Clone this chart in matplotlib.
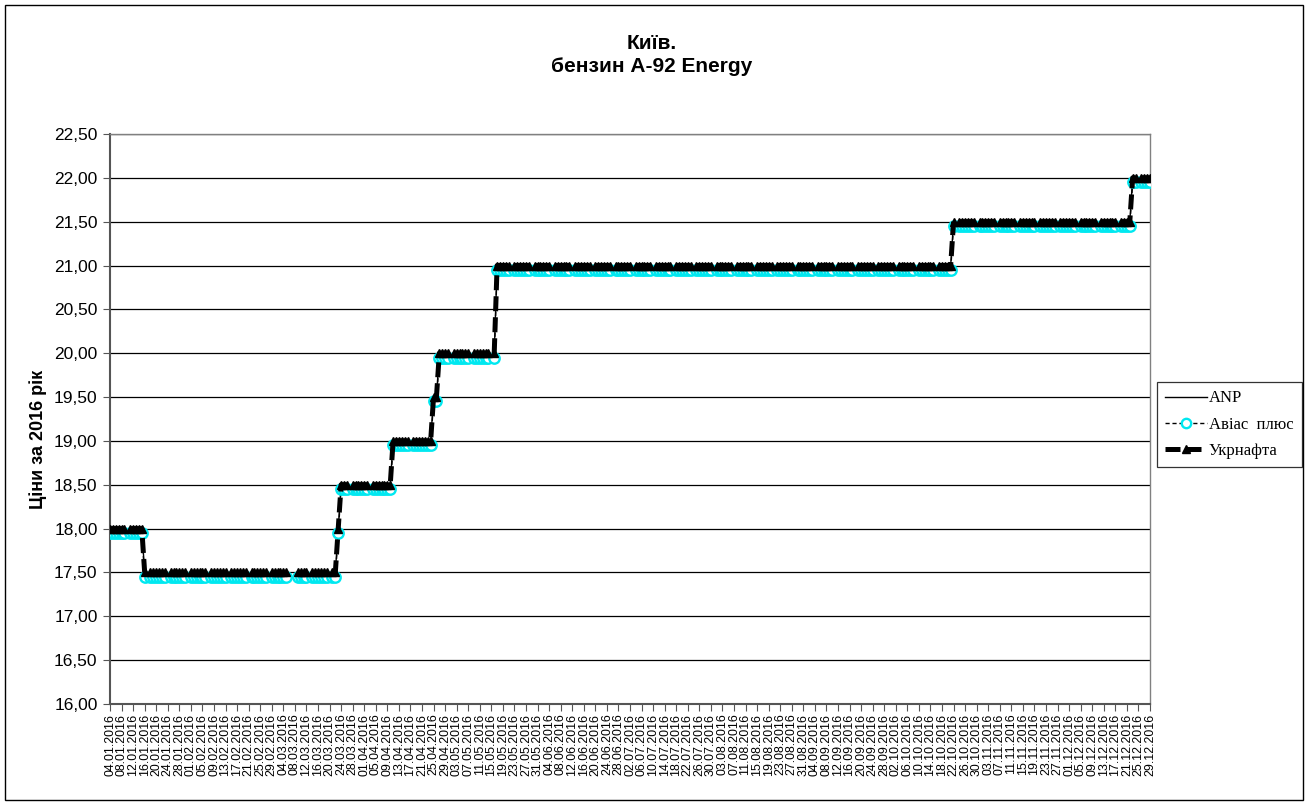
import numpy as np
import pandas as pd
import matplotlib
matplotlib.use('Agg')
import matplotlib.pyplot as plt
from matplotlib.ticker import FuncFormatter, MultipleLocator
from matplotlib.patches import Rectangle

plt.rcParams['font.family'] = ['Liberation Sans', 'DejaVu Sans']

# дні спостережень
START_DATE = "2016-01-04"
END_DATE = "2016-12-29"

# пропущені дні: неділі + свята; неділі, де дані є
EXTRA_MISSING = ["2016-03-07", "2016-03-08"]
KEEP_SUNDAYS = ["2016-04-10", "2016-04-24"]

# (дата зміни ціни, ціна) для кожної мережі
ANP_STEPS = [("2016-01-04", 18.00), ("2016-01-16", 17.50), ("2016-03-23", 18.00),
             ("2016-03-24", 18.50), ("2016-04-11", 19.00), ("2016-04-25", 19.50),
             ("2016-04-27", 20.00), ("2016-05-17", 21.00), ("2016-10-22", 21.50),
             ("2016-12-23", 22.00)]
AVIAS_STEPS = [("2016-01-04", 17.95), ("2016-01-16", 17.45), ("2016-03-23", 17.95),
               ("2016-03-24", 18.45), ("2016-04-11", 18.95), ("2016-04-25", 19.45),
               ("2016-04-27", 19.95), ("2016-05-17", 20.95), ("2016-10-22", 21.45),
               ("2016-12-23", 21.95)]
UKR_STEPS = [("2016-01-04", 18.00), ("2016-01-16", 17.50), ("2016-03-23", 18.00),
             ("2016-03-24", 18.50), ("2016-04-11", 19.00), ("2016-04-25", 19.50),
             ("2016-04-27", 20.00), ("2016-05-17", 21.00), ("2016-10-22", 21.50),
             ("2016-12-23", 22.00)]

SERIES_NAMES = ["ANP", "Авіас  плюс", "Укрнафта"]
TITLE = "Київ.\nбензин А-92 Energy"
Y_LABEL = "Ціни за 2016 рік"

dates = pd.date_range(START_DATE, END_DATE, freq="D")
missing = (dates.dayofweek == 6) | dates.isin(pd.to_datetime(EXTRA_MISSING))
missing &= ~dates.isin(pd.to_datetime(KEEP_SUNDAYS))


def expand(steps):
    s = pd.Series(np.nan, index=dates)
    for d, v in steps:
        s[pd.Timestamp(d)] = v
    s = s.ffill()
    s[missing] = np.nan
    return s.values


anp = expand(ANP_STEPS)
avias = expand(AVIAS_STEPS)
ukr = expand(UKR_STEPS)
x = np.arange(len(dates))

W, H = 1308, 805
fig = plt.figure(figsize=(W / 100, H / 100), dpi=100)
ax = fig.add_axes([110 / W, 1 - 704 / H, 1040 / W, 570 / H])

ax.plot(x, anp, color="black", lw=1.0, label=SERIES_NAMES[0], zorder=3)
ax.plot(x, avias, color="black", lw=1.0, ls=(0, (3, 2)), marker="o", ms=7.5,
        mfc="white", mec="#00e8f0", mew=1.7, label=SERIES_NAMES[1], zorder=4)
ax.plot(x, ukr, color="black", lw=3.6, ls=(0, (3, 1.2)), marker="^", ms=6,
        mfc="black", mec="black", label=SERIES_NAMES[2], zorder=5)

ax.set_xlim(0, len(dates) - 1)
ax.set_ylim(16, 22.5)
ax.yaxis.set_major_locator(MultipleLocator(0.5))
ax.yaxis.set_major_formatter(FuncFormatter(lambda v, p: f"{v:.2f}".replace(".", ",")))
ax.grid(axis="y", color="black", lw=0.9)
ax.set_axisbelow(True)

tick_idx = x[::4]
ax.set_xticks(tick_idx)
ax.set_xticklabels([dates[i].strftime("%d.%m.%Y") for i in tick_idx],
                   rotation=90, fontsize=8.9)
ax.tick_params(axis="x", direction="out", length=5, width=0.8, pad=2, color="#555555")
ax.tick_params(axis="y", direction="out", length=5, width=0.8, labelsize=12.5, pad=4,
               color="#555555")

for side in ["left", "bottom"]:
    ax.spines[side].set_color("#555555")
    ax.spines[side].set_linewidth(1.5)
for side in ["right", "top"]:
    ax.spines[side].set_color("#808080")
    ax.spines[side].set_linewidth(1.0)

fig.text(652 / W, 1 - 55 / H, TITLE, ha="center", va="center", fontsize=15,
         fontweight="bold", linespacing=1.3)
fig.text(38 / W, 1 - 439 / H, Y_LABEL, ha="center", va="center", rotation=90,
         fontsize=13, fontweight="bold")

leg = fig.legend(loc="upper left", bbox_to_anchor=(1157 / W, 1 - 382 / H),
                 borderaxespad=0, frameon=True, fancybox=False, edgecolor="black",
                 prop={"family": "Liberation Serif", "size": 12}, handlelength=2.5,
                 handletextpad=0.1, labelspacing=0.62, borderpad=0.5, markerscale=0.9)
leg.get_frame().set_linewidth(0.9)

fig.patches.append(Rectangle((5 / W, 5 / H), 1 - 10 / W, 1 - 10 / H,
                             transform=fig.transFigure, fill=False,
                             edgecolor="black", lw=1.0))

fig.savefig("out.png", dpi=100, facecolor="white")
